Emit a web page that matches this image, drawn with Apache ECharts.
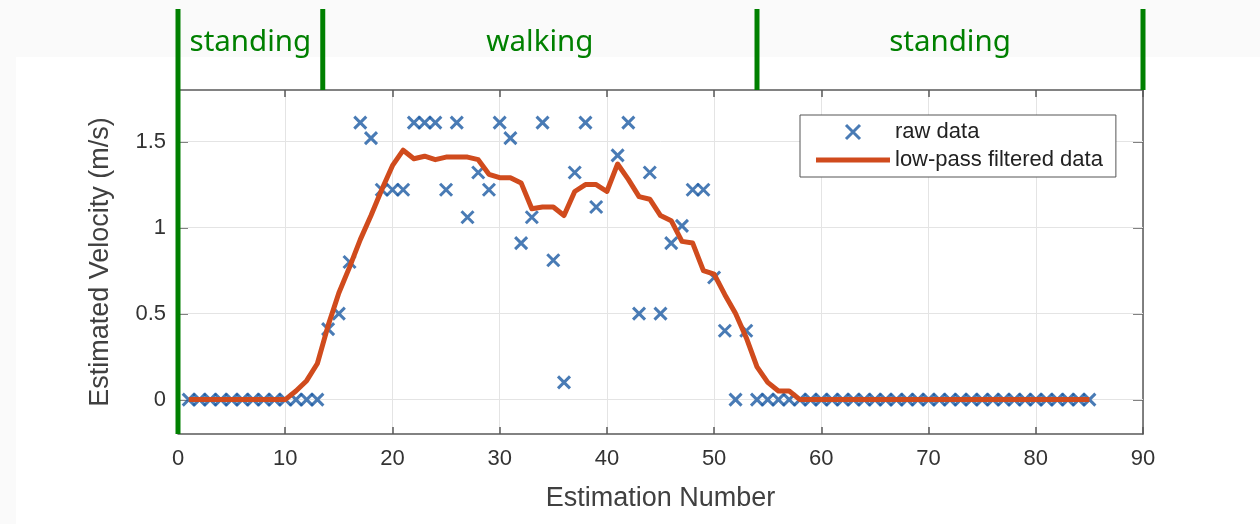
<!DOCTYPE html>
<html>
<head>
<meta charset="utf-8">
<script src="https://cdn.jsdelivr.net/npm/echarts@6/dist/echarts.min.js"></script>
<style>
  html, body { margin: 0; padding: 0; background: #fafafa; }
  #chart { width: 1260px; height: 524px; }
</style>
</head>
<body>
<div id="chart"></div>
<script>
// ---------- data ----------
const estimationNumbers = Array.from({ length: 85 }, (_, i) => i + 1);

// raw velocity estimates (m/s); null = no estimate plotted
const rawVelocity = [
  0, 0, 0, 0, 0, 0, 0, 0, 0, 0,                 // 1-10
  0, 0, 0, 0.41, 0.5, 0.8, 1.61, 1.52, 1.22, 1.22, // 11-20
  1.22, 1.61, 1.61, 1.61, 1.22, 1.61, 1.06, 1.32, 1.22, 1.61, // 21-30
  1.52, 0.91, 1.06, 1.61, 0.81, 0.1, 1.32, 1.61, 1.12, null, // 31-40
  1.42, 1.61, 0.5, 1.32, 0.5, 0.91, 1.01, 1.22, 1.22, 0.71, // 41-50
  0.4, 0, 0.4, 0, 0, 0, 0, 0, 0, 0,             // 51-60
  0, 0, 0, 0, 0, 0, 0, 0, 0, 0,                 // 61-70
  0, 0, 0, 0, 0, 0, 0, 0, 0, 0,                 // 71-80
  0, 0, 0, 0, 0                                  // 81-85
];

// low-pass filtered velocity (m/s)
const filteredVelocity = [
  0, 0, 0, 0, 0, 0, 0, 0, 0, 0,                          // 1-10
  0.05, 0.11, 0.21, 0.43, 0.62, 0.77, 0.93, 1.07, 1.22, 1.36, // 11-20
  1.45, 1.40, 1.415, 1.395, 1.41, 1.41, 1.41, 1.395, 1.31, 1.29, // 21-30
  1.29, 1.26, 1.11, 1.12, 1.12, 1.07, 1.21, 1.25, 1.25, 1.21, // 31-40
  1.37, 1.28, 1.18, 1.165, 1.07, 1.04, 0.92, 0.91, 0.75, 0.73, // 41-50
  0.61, 0.50, 0.36, 0.19, 0.10, 0.05, 0.05, 0, 0, 0,      // 51-60
  0, 0, 0, 0, 0, 0, 0, 0, 0, 0,                          // 61-70
  0, 0, 0, 0, 0, 0, 0, 0, 0, 0,                          // 71-80
  0, 0, 0, 0, 0                                           // 81-85
];

const xTicks = [0, 10, 20, 30, 40, 50, 60, 70, 80, 90];
const yTicks = [0, 0.5, 1, 1.5];

// activity phases: boundaries in estimation-number units and labels
const phaseBoundaries = [0, 13.5, 54, 90];
const phaseLabels = ['standing', 'walking', 'standing'];

const seriesNames = ['raw data', 'low-pass filtered data'];

// ---------- styles ----------
const BLUE = '#1c5aa2';
const RED = '#d04b1d';
const GREEN = '#008000';
const AXIS = '#5a5a5a';
const GRIDC = '#e4e4e4';
const FONT = 'Liberation Sans, Arial, Helvetica, sans-serif';
const XPATH = 'path://M0,0L10,10M10,0L0,10';
const LINEICON = 'path://M0,0L74,0L74,5L0,5Z';

const rawPairs = [];
estimationNumbers.forEach((n, i) => {
  if (rawVelocity[i] !== null) rawPairs.push([n, rawVelocity[i]]);
});
const filteredPairs = estimationNumbers.map((n, i) => [n, filteredVelocity[i]]);

const chart = echarts.init(document.getElementById('chart'), null, { renderer: 'canvas' });

const option = {
  backgroundColor: '#fafafa',
  animation: false,
  textStyle: { fontFamily: FONT },
  grid: { left: 178, right: 117, top: 90, bottom: 90, containLabel: false },
  legend: {
    orient: 'vertical',
    left: 800,
    top: 115,
    padding: [6, 13, 6, 16],
    itemGap: 6,
    itemWidth: 74,
    itemHeight: 14,
    symbolKeepAspect: true,
    borderColor: '#555',
    borderWidth: 1,
    backgroundColor: '#ffffff',
    selectedMode: false,
    textStyle: { fontSize: 22, color: '#222', fontFamily: FONT },
    data: [
      { name: seriesNames[0], icon: XPATH,
        itemStyle: { color: BLUE, borderColor: BLUE, borderWidth: 3 } },
      { name: seriesNames[1], icon: LINEICON,
        itemStyle: { color: RED, borderColor: RED, borderWidth: 0 } }
    ]
  },
  xAxis: [
    {
      type: 'value', min: xTicks[0], max: xTicks[xTicks.length - 1], interval: 10,
      position: 'bottom',
      name: 'Estimation Number', nameLocation: 'middle', nameGap: 51,
      nameTextStyle: { fontSize: 27, color: '#404040', fontFamily: FONT },
      axisLine: { show: true, onZero: false, lineStyle: { color: AXIS, width: 1.5 } },
      axisTick: { show: true, inside: true, length: 7, lineStyle: { color: AXIS, width: 1.5 } },
      axisLabel: { fontSize: 22, color: '#333', margin: 14, fontFamily: FONT },
      splitLine: { show: true, lineStyle: { color: GRIDC, width: 1 } }
    },
    {
      type: 'value', min: xTicks[0], max: xTicks[xTicks.length - 1], interval: 10,
      position: 'top',
      axisLine: { show: true, onZero: false, lineStyle: { color: AXIS, width: 1.5 } },
      axisTick: { show: true, inside: true, length: 7, lineStyle: { color: AXIS, width: 1.5 } },
      axisLabel: { show: false },
      splitLine: { show: false }
    }
  ],
  yAxis: [
    {
      type: 'value', min: -0.2, max: 1.8,
      position: 'left',
      name: 'Estimated Velocity (m/s)', nameLocation: 'middle', nameGap: 64, nameRotate: 90,
      nameTextStyle: { fontSize: 27, color: '#404040', fontFamily: FONT },
      axisLine: { show: false, onZero: false },
      axisTick: { show: true, inside: true, length: 10, customValues: yTicks, lineStyle: { color: AXIS, width: 1.5 } },
      axisLabel: { fontSize: 22, color: '#333', margin: 12, customValues: yTicks, fontFamily: FONT },
      splitLine: { show: false }
    },
    {
      type: 'value', min: -0.2, max: 1.8,
      position: 'right',
      axisLine: { show: true, onZero: false, lineStyle: { color: AXIS, width: 1.5 } },
      axisTick: { show: true, inside: true, length: 10, customValues: yTicks, lineStyle: { color: AXIS, width: 1.5 } },
      axisLabel: { show: false },
      splitLine: { show: false }
    }
  ],
  series: [
    {
      name: seriesNames[0],
      type: 'scatter',
      xAxisIndex: 0, yAxisIndex: 0,
      symbol: XPATH,
      symbolSize: 12,
      symbolKeepAspect: true,
      itemStyle: { color: BLUE, borderColor: BLUE, borderWidth: 3 },
      data: rawPairs,
      z: 3,
      markLine: {
        silent: true,
        symbol: 'none',
        z: 1,
        label: { show: false },
        lineStyle: { color: GRIDC, width: 1, type: 'solid' },
        data: yTicks.map(v => ({ yAxis: v }))
      }
    },
    {
      name: seriesNames[1],
      type: 'line',
      xAxisIndex: 0, yAxisIndex: 0,
      symbol: 'none',
      showSymbol: false,
      lineStyle: { color: RED, width: 5, join: 'round' },
      itemStyle: { color: RED },
      data: filteredPairs,
      z: 4
    }
  ]
};

chart.setOption(option);

// ---------- phase annotation (green lines + labels above the plot) ----------
function buildGraphics() {
  const px = v => chart.convertToPixel({ xAxisIndex: 0 }, v);
  const yTop = chart.convertToPixel({ yAxisIndex: 0 }, 1.8);
  const yBottom = chart.convertToPixel({ yAxisIndex: 0 }, -0.2);
  const lineTop = 9;
  const els = [
    { type: 'rect', z: -100, silent: true,
      shape: { x: 16, y: 57, width: 1260 - 16, height: 524 - 57 },
      style: { fill: '#ffffff' } }
  ];
  phaseBoundaries.forEach((b, i) => {
    const x = px(b);
    els.push({
      type: 'line', silent: true, z: 100,
      shape: { x1: x, y1: lineTop, x2: x, y2: i === 0 ? yBottom : yTop },
      style: { stroke: GREEN, lineWidth: 5 }
    });
  });
  phaseLabels.forEach((lab, i) => {
    const cx = (px(phaseBoundaries[i]) + px(phaseBoundaries[i + 1])) / 2;
    els.push({
      type: 'text', silent: true, z: 100,
      x: cx, y: 43,
      style: {
        text: lab, fill: GREEN, fontSize: 29.5,
        fontFamily: 'Noto Sans, Open Sans, sans-serif',
        align: 'center', verticalAlign: 'middle'
      }
    });
  });
  chart.setOption({ graphic: { elements: els } });
}
buildGraphics();
</script>
</body>
</html>
